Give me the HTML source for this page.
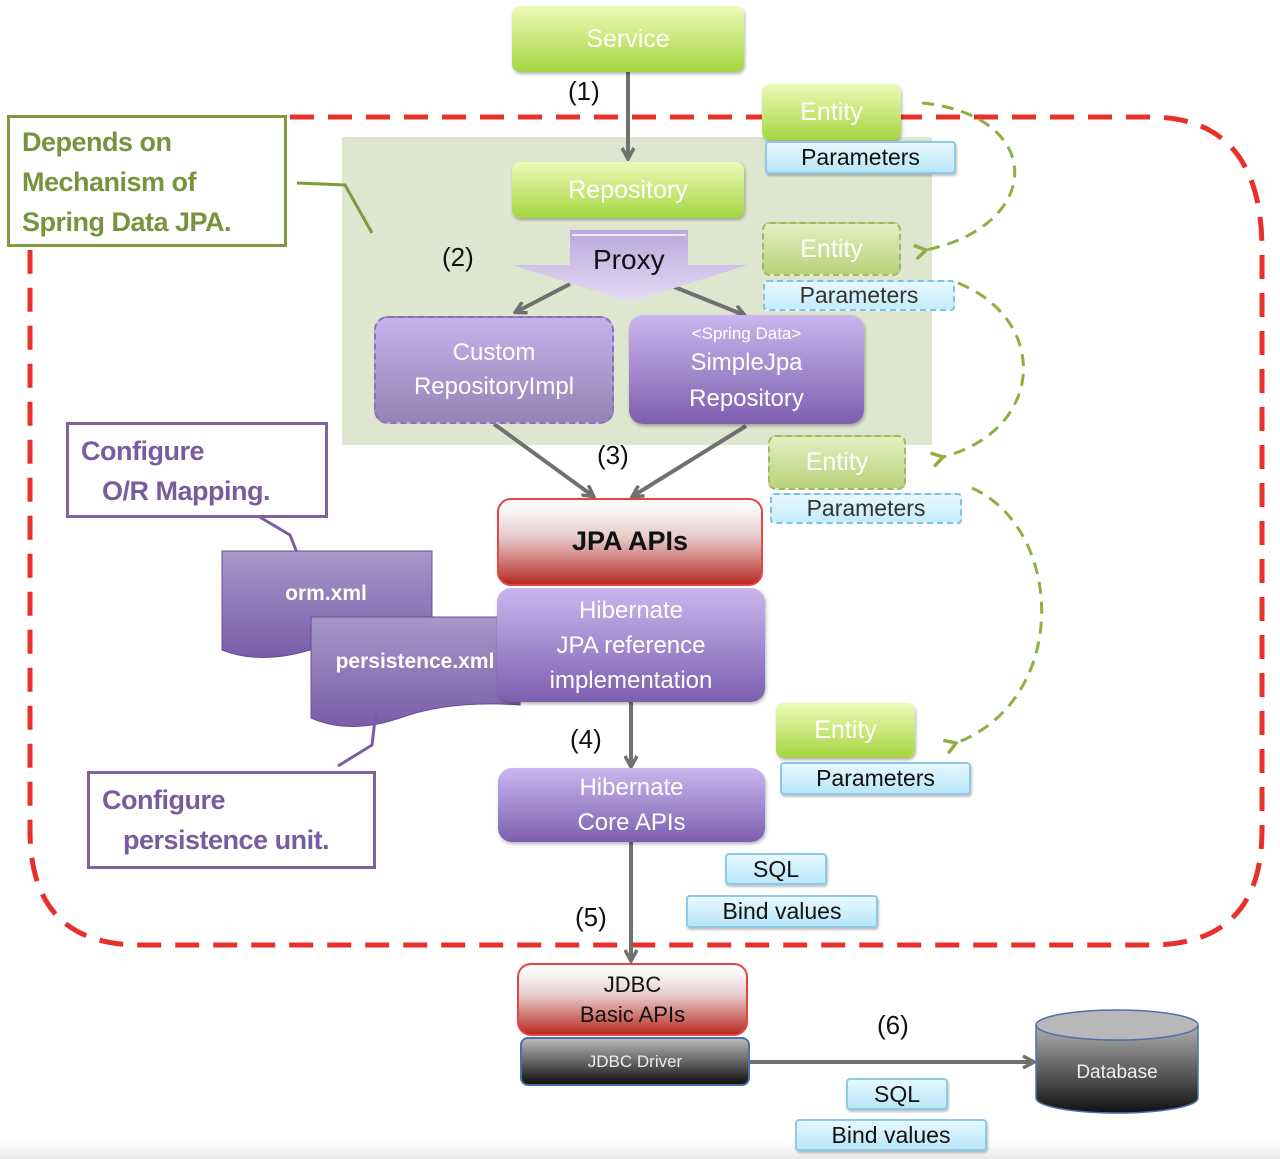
<!DOCTYPE html>
<html><head><meta charset="utf-8"><style>
body{margin:0;width:1280px;height:1159px;position:relative;background:#fff;overflow:hidden;font-family:"Liberation Sans",sans-serif}
.b{position:absolute;box-sizing:border-box;display:flex;align-items:center;justify-content:center;text-align:center;line-height:1.4}
.g{background:linear-gradient(#eefab8,#a4d640);border-radius:8px;color:#fff;font-size:25px;box-shadow:1px 2px 3px rgba(0,0,0,.3)}
.gd{background:linear-gradient(#e4efc2,#b8d27a);border:2px dashed #a0b868;border-radius:8px;color:#fff;font-size:25px}
.p{background:linear-gradient(#e8f8ff,#b8e6f8);border:2px solid #8cc8e8;border-radius:4px;color:#111;font-size:23px;box-shadow:1px 2px 2px rgba(0,0,0,.25)}
.pd{background:linear-gradient(#e8f8ff,#c4ecfa);border:2px dashed #80c0e0;border-radius:4px;color:#333;font-size:23px}
.pu{background:linear-gradient(#cbb6ee,#7d5eaf);border-radius:14px;color:#fff;font-size:24px;box-shadow:1px 2px 3px rgba(0,0,0,.3)}
.r{background:linear-gradient(#fafafa 10%,#e6c8c8 45%,#b82a22);border:2px solid #e04848;border-radius:14px;color:#111}
.lbl{position:absolute;font-size:26px;color:#111}
.note{position:absolute;box-sizing:border-box;background:#fff;font-weight:bold;font-size:27px;line-height:40px;letter-spacing:-0.5px}
</style></head><body>
<div style="position:absolute;left:0;top:1140px;width:1280px;height:19px;background:linear-gradient(#fff,#e8e8e8)"></div>
<div class="b" style="left:342px;top:137px;width:590px;height:308px;background:#dfe6cf"></div>
<svg width="1280" height="1159" style="position:absolute;left:0;top:0">
<defs>
<marker id="a" markerWidth="14" markerHeight="14" refX="11" refY="7" orient="auto" markerUnits="userSpaceOnUse"><path d="M1,1 L12,7 L1,13" fill="none" stroke="#707070" stroke-width="3.5"/></marker>
<marker id="ag" markerWidth="14" markerHeight="16" refX="2" refY="8" orient="auto" markerUnits="userSpaceOnUse"><path d="M13,1 L2,8 L13,15" fill="none" stroke="#8db040" stroke-width="3.5"/></marker>
<linearGradient id="px" x1="0" y1="0" x2="0" y2="1"><stop offset="0" stop-color="#b8a8dc"/><stop offset="1" stop-color="#e4dcf4"/></linearGradient>
<linearGradient id="db" x1="0" y1="0" x2="0" y2="1"><stop offset="0" stop-color="#b0b0b0"/><stop offset="1" stop-color="#111"/></linearGradient>
<linearGradient id="doc" x1="0" y1="0" x2="0" y2="1"><stop offset="0" stop-color="#a898c8"/><stop offset="1" stop-color="#7a5ca8"/></linearGradient>
</defs>
<path d="M290,117 H1150 Q1262,117 1262,250 V830 Q1262,945 1150,945 H140 Q30,945 30,830 V250" fill="none" stroke="#e8302a" stroke-width="5" stroke-dasharray="24 14"/>
<g stroke="#707070" stroke-width="4" fill="none">
<line x1="628" y1="72" x2="628" y2="158" marker-end="url(#a)"/>
<line x1="570" y1="284" x2="516" y2="312" marker-end="url(#a)"/>
<line x1="672" y1="286" x2="744" y2="315" marker-end="url(#a)"/>
<line x1="494" y1="424" x2="593" y2="496" marker-end="url(#a)"/>
<line x1="746" y1="426" x2="633" y2="496" marker-end="url(#a)"/>
<line x1="631" y1="702" x2="631" y2="766" marker-end="url(#a)"/>
<line x1="631" y1="842" x2="631" y2="960" marker-end="url(#a)"/>
<line x1="750" y1="1062" x2="1033" y2="1062" marker-end="url(#a)"/>
</g>
<polygon points="570,230 688,230 688,265 748,265 630,302 512,265 570,265" fill="url(#px)"/>
<line x1="572" y1="235" x2="686" y2="235" stroke="#fff" stroke-width="1.5"/>
<g stroke="#8db040" stroke-width="3" fill="none" stroke-dasharray="12 8">
<path d="M922,103 C1045,115 1045,225 926,250" marker-end="url(#ag)"/>
<path d="M958,283 C1050,320 1045,430 943,457" marker-end="url(#ag)"/>
<path d="M972,488 C1065,530 1070,700 956,743" marker-end="url(#ag)"/>
</g>
<polyline points="297,183 345,185 372,233" fill="none" stroke="#7f9a3a" stroke-width="3"/>
<polyline points="258,516 290,535 305,573" fill="none" stroke="#7a5ca8" stroke-width="3"/>
<path d="M222,551 H432 V650 Q370,630 310,650 Q260,665 222,650 Z" fill="url(#doc)" stroke="#6a4c98" stroke-width="1"/>
<path d="M311,617 H520 V705 Q450,700 400,718 Q350,735 311,718 Z" fill="url(#doc)" stroke="#6a4c98" stroke-width="1"/>
<polyline points="376,711 372,745 338,766" fill="none" stroke="#7a5ca8" stroke-width="3"/>
<path d="M1036,1025 V1098 A81,15 0 0 0 1198,1098 V1025" fill="url(#db)" stroke="#4a70b0" stroke-width="1.5"/>
<ellipse cx="1117" cy="1025" rx="81" ry="15" fill="#b8b8b8" stroke="#4a70b0" stroke-width="1.5"/>
<text x="326" y="600" fill="#fff" font-size="21" font-weight="bold" text-anchor="middle" font-family="Liberation Sans">orm.xml</text>
<text x="415" y="668" fill="#fff" font-size="21" font-weight="bold" text-anchor="middle" font-family="Liberation Sans">persistence.xml</text>
<text x="1117" y="1078" fill="#eee" font-size="19" text-anchor="middle" font-family="Liberation Sans">Database</text>
</svg>
<div class="b g" style="left:512px;top:6px;width:232px;height:66px">Service</div>
<div class="b g" style="left:512px;top:162px;width:232px;height:56px">Repository</div>
<div class="lbl" style="left:568px;top:76px">(1)</div>
<div class="lbl" style="left:442px;top:242px">(2)</div>
<div class="lbl" style="left:597px;top:440px">(3)</div>
<div class="lbl" style="left:570px;top:724px">(4)</div>
<div class="lbl" style="left:575px;top:902px">(5)</div>
<div class="lbl" style="left:877px;top:1010px">(6)</div>
<div class="lbl" style="left:593px;top:244px;font-size:28px">Proxy</div>
<div class="b pu" style="left:374px;top:316px;width:240px;height:108px;background:linear-gradient(#c6b2ea,#9484b4);border:2px dashed #8a70b8;box-shadow:none">Custom<br>RepositoryImpl</div>
<div class="b pu" style="left:629px;top:315px;width:235px;height:109px;flex-direction:column;line-height:36px"><span style="font-size:17px;line-height:22px">&lt;Spring Data&gt;</span>SimpleJpa<br>Repository</div>
<div class="b r" style="left:497px;top:498px;width:266px;height:88px;font-size:27px;font-weight:bold">JPA APIs</div>
<div class="b pu" style="left:497px;top:588px;width:268px;height:114px;line-height:35px">Hibernate<br>JPA reference<br>implementation</div>
<div class="b pu" style="left:498px;top:768px;width:267px;height:74px;line-height:35px">Hibernate<br>Core APIs</div>
<div class="b r" style="left:517px;top:963px;width:231px;height:73px;font-size:22px;line-height:30px">JDBC<br>Basic APIs</div>
<div class="b" style="left:520px;top:1037px;width:230px;height:49px;background:linear-gradient(#b8b8b8,#111);border:2px solid #4a70b0;border-radius:8px;color:#eee;font-size:17px">JDBC Driver</div>
<div class="b g" style="left:762px;top:84px;width:139px;height:56px">Entity</div>
<div class="b p" style="left:765px;top:141px;width:191px;height:33px">Parameters</div>
<div class="b gd" style="left:762px;top:222px;width:139px;height:54px">Entity</div>
<div class="b pd" style="left:763px;top:280px;width:192px;height:31px">Parameters</div>
<div class="b gd" style="left:768px;top:435px;width:138px;height:55px">Entity</div>
<div class="b pd" style="left:770px;top:493px;width:192px;height:31px">Parameters</div>
<div class="b g" style="left:776px;top:703px;width:139px;height:55px">Entity</div>
<div class="b p" style="left:780px;top:762px;width:191px;height:33px">Parameters</div>
<div class="b p" style="left:725px;top:853px;width:102px;height:32px">SQL</div>
<div class="b p" style="left:686px;top:895px;width:192px;height:33px">Bind values</div>
<div class="b p" style="left:846px;top:1078px;width:102px;height:32px">SQL</div>
<div class="b p" style="left:795px;top:1119px;width:192px;height:32px">Bind values</div>
<div class="note" style="left:7px;top:115px;width:280px;height:132px;border:3px solid #7f9a3a;color:#77933c;padding:4px 0 0 12px">Depends on<br>Mechanism of<br>Spring Data JPA.</div>
<div class="note" style="left:66px;top:422px;width:262px;height:96px;border:3px solid #7f62a0;color:#7a5c9e;padding:6px 0 0 12px">Configure<br>&nbsp;&nbsp;&nbsp;O/R Mapping.</div>
<div class="note" style="left:87px;top:771px;width:289px;height:98px;border:3px solid #7f62a0;color:#7a5c9e;padding:6px 0 0 12px">Configure<br>&nbsp;&nbsp;&nbsp;persistence unit.</div>
</body></html>
